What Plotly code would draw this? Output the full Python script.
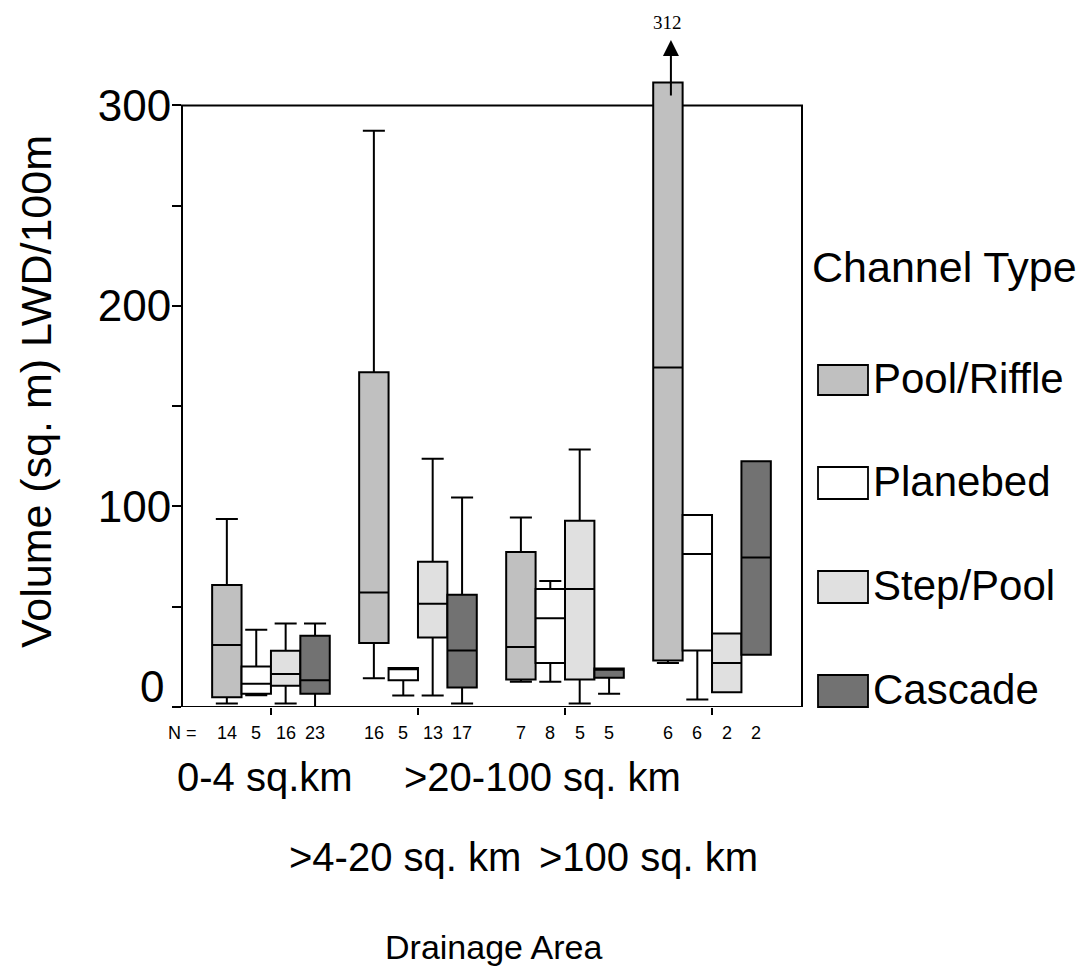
import plotly.graph_objects as go

# ---------------- data ----------------
areas = ["0-4 sq.km", ">4-20 sq. km", ">20-100 sq. km", ">100 sq. km"]
channel_types = ["Pool/Riffle", "Planebed", "Step/Pool", "Cascade"]

pr_lower = [1.7, 14.4, 12.6, 22.0]
pr_q1 = [4.9, 31.9, 13.7, 23.2]
pr_median = [30.9, 57.1, 29.9, 169.3]
pr_q3 = [60.9, 167.0, 77.3, 311.5]
pr_upper = [93.7, 287.4, 94.5, 311.5]

pb_lower = [5.9, 5.7, 12.6, 3.7]
pb_q1 = [6.6, 13.4, 22.0, 28.2]
pb_median = [11.6, 18.8, 44.3, 76.3]
pb_q3 = [20.2, 19.4, 58.8, 95.7]
pb_upper = [38.5, 19.4, 62.8, 95.7]

sp_lower = [1.7, 5.7, 1.7, 7.4]
sp_q1 = [10.6, 34.7, 13.7, 7.4]
sp_median = [16.4, 51.5, 58.8, 22.0]
sp_q3 = [28.0, 72.4, 92.9, 36.7]
sp_upper = [41.6, 123.8, 128.4, 36.7]

ca_lower = [0.0, 1.7, 6.6, 26.0]
ca_q1 = [6.6, 9.7, 14.6, 26.0]
ca_median = [13.4, 28.2, 18.6, 74.6]
ca_q3 = [35.5, 56.0, 19.2, 122.6]
ca_upper = [41.6, 104.5, 19.2, 122.6]

n_pr = [14, 16, 7, 6]
n_pb = [5, 5, 8, 6]
n_sp = [16, 13, 5, 2]
n_ca = [23, 17, 5, 2]

outlier_label = "312"

y_tick_vals = [0, 50, 100, 150, 200, 250, 300]
y_tick_text = ["", "", "100", "", "200", "", "300"]

fills = ["#c0c0c0", "#ffffff", "#e0e0e0", "#727272"]

# ---------------- figure ----------------
FONT = "Arial, Liberation Sans, sans-serif"
fig = go.Figure()

series = [
    (pr_lower, pr_q1, pr_median, pr_q3, pr_upper),
    (pb_lower, pb_q1, pb_median, pb_q3, pb_upper),
    (sp_lower, sp_q1, sp_median, sp_q3, sp_upper),
    (ca_lower, ca_q1, ca_median, ca_q3, ca_upper),
]
for name, fill, (lo, q1, med, q3, up) in zip(channel_types, fills, series):
    fig.add_trace(go.Box(
        name=name, x=areas, lowerfence=lo, q1=q1, median=med, q3=q3, upperfence=up,
        fillcolor=fill, line=dict(color="black", width=2),
        whiskerwidth=0.75, boxpoints=False, showlegend=False,
    ))

fig.update_layout(
    width=1081, height=969,
    margin=dict(l=182, r=279, t=78, b=262),
    paper_bgcolor="white", plot_bgcolor="white",
    boxmode="group", boxgap=0.2, boxgroupgap=0.0,
    font=dict(family=FONT, color="black"),
    xaxis=dict(type="category", range=[-0.605, 3.612], showgrid=False, zeroline=False,
               showline=False, ticks="outside", ticklen=7, tickwidth=1.8, tickcolor="black",
               showticklabels=False),
    yaxis=dict(range=[0, 313.7], showgrid=False, zeroline=False, showline=False,
               tickvals=y_tick_vals, ticktext=y_tick_text, ticks="outside", ticklen=9,
               tickwidth=1.8, tickcolor="black", tickfont=dict(size=44, family=FONT),
               ticklabelstandoff=-8),
)

# frame (axes box up to 300)
fig.add_shape(type="rect", xref="paper", yref="y", x0=0, x1=1, y0=0, y1=300,
              line=dict(color="black", width=2), layer="below")

# "0" tick label (drawn slightly raised as in the original)
fig.add_annotation(x=0, y=(707 - 686) / 629, xref="paper", yref="paper", text="0",
                   showarrow=False, xanchor="right", yanchor="middle", xshift=-16,
                   font=dict(size=44, family=FONT))

# N labels
offsets = [-0.3, -0.1, 0.1, 0.3]
ny = (707 - 733) / 629
fig.add_annotation(x=0, y=ny, xref="paper", yref="paper", text="N =", showarrow=False,
                   xanchor="center", yanchor="middle", font=dict(size=18, family=FONT))
for off, ns in zip(offsets, [n_pr, n_pb, n_sp, n_ca]):
    for i, n in enumerate(ns):
        fig.add_annotation(x=i + off, y=ny, xref="x", yref="paper", text=str(n),
                           showarrow=False, xanchor="center", yanchor="middle",
                           font=dict(size=18, family=FONT))

# group labels
label_pos = [(265, 777), (405, 857), (542, 777), (648, 857)]
for lab, (px, py) in zip(areas, label_pos):
    fig.add_annotation(x=(px - 182) / 620, y=(707 - py) / 629, xref="paper", yref="paper",
                       text=lab, showarrow=False, xanchor="center", yanchor="middle",
                       font=dict(size=40, family=FONT))

# axis titles
fig.add_annotation(x=(493 - 182) / 620, y=(707 - 947) / 629, xref="paper", yref="paper",
                   text="Drainage Area", showarrow=False, xanchor="center", yanchor="middle",
                   font=dict(size=34, family=FONT))
fig.add_annotation(x=(36 - 182) / 620, y=(707 - 392) / 629, xref="paper", yref="paper",
                   text="Volume (sq. m) LWD/100m", textangle=-90, showarrow=False,
                   xanchor="center", yanchor="middle", font=dict(size=43, family=FONT))

# outlier arrow and label
fig.add_annotation(x=3 + offsets[0], y=(707 - 40) / 629, xref="x", yref="paper", text="",
                   showarrow=True, ax=0, ay=57, arrowhead=2, arrowsize=1.6, arrowwidth=2,
                   arrowcolor="black", xshift=3)
fig.add_annotation(x=3 + offsets[0], y=(707 - 22) / 629, xref="x", yref="paper",
                   text=outlier_label, showarrow=False, xanchor="center", yanchor="middle",
                   font=dict(size=19, family="Times New Roman, Liberation Serif, serif"))

# legend (manual)
fig.add_annotation(x=(810 - 182) / 620, y=(707 - 267) / 629, xref="paper", yref="paper",
                   text="Channel Type", showarrow=False, xanchor="left", yanchor="middle",
                   font=dict(size=43, family=FONT))
rows = [(365, 395), (467, 499), (571, 603), (675, 707)]
for name, fill, (t, b) in zip(channel_types, fills, rows):
    fig.add_shape(type="rect", xref="paper", yref="paper",
                  x0=(818 - 182) / 620, x1=(868 - 182) / 620,
                  y0=(707 - b) / 629, y1=(707 - t) / 629,
                  fillcolor=fill, line=dict(color="black", width=1.8))
    fig.add_annotation(x=(871 - 182) / 620, y=(707 - (t + b) / 2 + 2) / 629, xref="paper",
                       yref="paper", text=name, showarrow=False, xanchor="left",
                       yanchor="middle", font=dict(size=42, family=FONT))

fig.write_html("out.html", config={"displayModeBar": False},
               post_script="document.body.style.margin='0';")
